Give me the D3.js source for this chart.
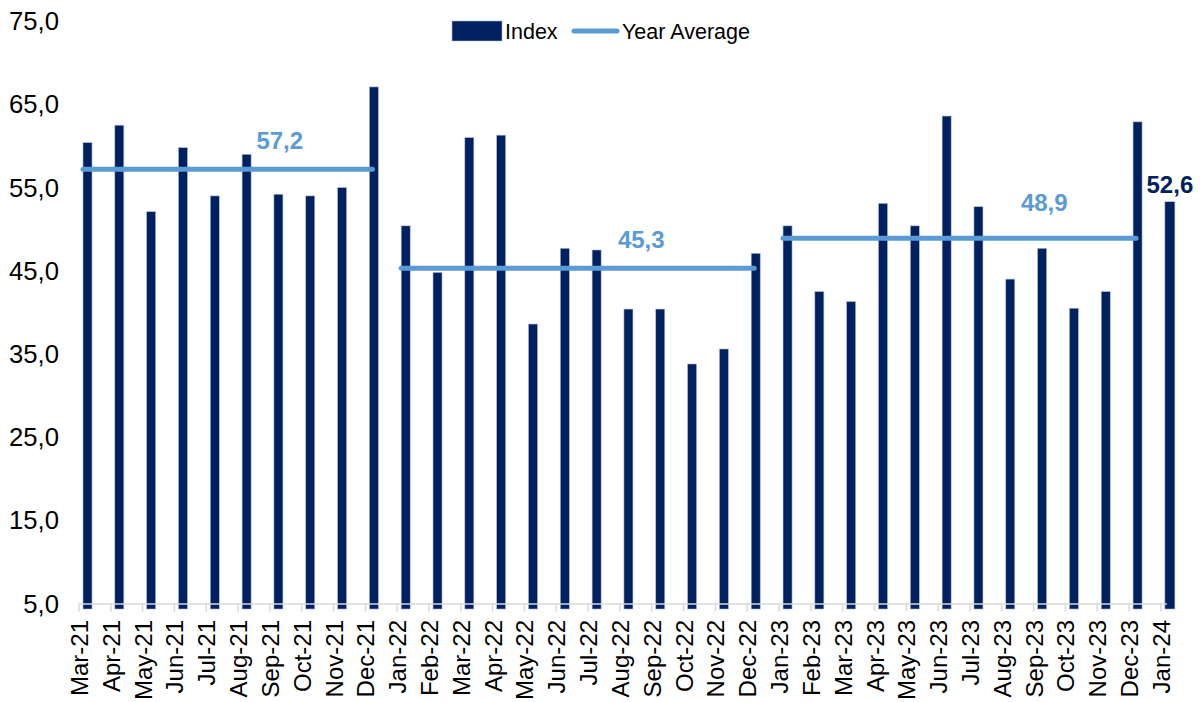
<!DOCTYPE html>
<meta charset="utf-8">
<script src="https://d3js.org/d3.v7.js"></script>
<style>
  body { margin: 0; background: #fff; }
  text { font-family: "Liberation Sans", Arial, sans-serif; }
</style>
<div id="chart"></div>
<script>

// data
var months = ["Mar-21","Apr-21","May-21","Jun-21","Jul-21","Aug-21","Sep-21","Oct-21","Nov-21","Dec-21",
  "Jan-22","Feb-22","Mar-22","Apr-22","May-22","Jun-22","Jul-22","Aug-22","Sep-22","Oct-22","Nov-22","Dec-22",
  "Jan-23","Feb-23","Mar-23","Apr-23","May-23","Jun-23","Jul-23","Aug-23","Sep-23","Oct-23","Nov-23","Dec-23",
  "Jan-24"];
var index = [60.4, 62.5, 52.1, 59.8, 54.0, 59.0, 54.2, 54.0, 55.0, 67.1,
  50.4, 44.8, 61.0, 61.3, 38.6, 47.7, 47.5, 40.4, 40.4, 33.8, 35.6, 47.1,
  50.4, 42.5, 41.3, 53.1, 50.4, 63.6, 52.7, 44.0, 47.7, 40.5, 42.5, 62.9,
  53.3];
var avgValues = [57.2, 45.3, 48.9];
var avgFrom = ["Mar-21", "Jan-22", "Jan-23"];
var avgTo = ["Dec-21", "Dec-22", "Dec-23"];
var lastLabel = "52,6";
var yTicks = [5, 15, 25, 35, 45, 55, 65, 75];

var width = 1200, height = 702;
var navy = "#002060", blue = "#5b9bd5", grid = "#d9d9d9";

var svg = d3.select("#chart").append("svg")
    .attr("width", width)
    .attr("height", height);

var comma = d3.formatLocale({decimal: ",", thousands: ".", grouping: [3], currency: ["", ""]}).format(".1f");

var y = d3.scaleLinear()
  .domain([5, 75])
  .range([603.6, 21.2]);

var step = 31.82;
var x = d3.scaleBand()
  .domain(months)
  .range([79, 79 + step * months.length]);

// y axis labels (no line)
svg.append("g")
  .selectAll("text")
  .data(yTicks)
  .join("text")
    .attr("x", 59)
    .attr("y", d => y(d))
    .attr("dy", "0.35em")
    .attr("text-anchor", "end")
    .style("font-size", "25.7px")
    .style("fill", "#000")
    .text(d => comma(d));

// bars
svg.append("g")
  .selectAll("rect")
  .data(months)
  .join("rect")
    .attr("x", (d) => x(d) + 4)
    .attr("width", (d, i) => i == months.length - 1 ? 10 : 9)
    .attr("y", (d, i) => y(index[i]))
    .attr("height", (d, i) => y(4.35) - y(index[i]))
    .style("fill", navy)
    .style("stroke", "#a9b8d6")
    .style("stroke-width", 0.6);

// x axis line and ticks
var axis = svg.append("g");
axis.append("line")
  .attr("x1", x(months[0]))
  .attr("x2", x(months[months.length - 1]) + 6)
  .attr("y1", y(5) + 0.5)
  .attr("y2", y(5) + 0.5)
  .style("stroke", grid)
  .style("stroke-width", 1.5);
axis.selectAll(".tick")
  .data(months)
  .join("line")
    .attr("class", "tick")
    .attr("x1", d => x(d))
    .attr("x2", d => x(d))
    .attr("y1", y(5))
    .attr("y2", y(5) + 8)
    .style("stroke", grid)
    .style("stroke-width", 1.5);
axis.selectAll(".lab")
  .data(months)
  .join("text")
    .attr("class", "lab")
    .attr("transform", d => "translate(" + (x(d) + 9) + "," + 620 + ") rotate(-90)")
    .attr("text-anchor", "end")
    .style("font-size", "24px")
    .style("fill", "#000")
    .text(d => d);

// year average lines
var frac = [0.68, 0.68, 0.74];
var lift = [20, 20, 27];
var avg = svg.append("g");
avgValues.forEach(function (v, i) {
  var x1 = x(avgFrom[i]) + 4, x2 = x(avgTo[i]) + 7;
  avg.append("line")
    .attr("x1", x1).attr("x2", x2)
    .attr("y1", y(v)).attr("y2", y(v))
    .style("stroke", blue)
    .style("stroke-width", 5)
    .style("stroke-linecap", "round");
  avg.append("text")
    .attr("x", x1 + (x2 - x1) * frac[i])
    .attr("y", y(v) - lift[i])
    .attr("text-anchor", "middle")
    .style("font-size", "24px")
    .style("font-weight", "bold")
    .style("fill", blue)
    .text(comma(v));
});

// label on last bar
var last = months[months.length - 1];
svg.append("text")
  .attr("x", x(last) + 9)
  .attr("y", y(index[index.length - 1]) - 9)
  .attr("text-anchor", "middle")
  .style("font-size", "24px")
  .style("font-weight", "bold")
  .style("fill", navy)
  .text(lastLabel);

// legend
var legend = svg.append("g");
legend.append("rect")
  .attr("x", 452).attr("y", 21)
  .attr("width", 50).attr("height", 20)
  .style("fill", navy)
  .style("stroke", "#a9b8d6")
  .style("stroke-width", 0.6);
legend.append("text")
  .attr("x", 505).attr("y", 39)
  .style("font-size", "21.5px")
  .text("Index");
legend.append("line")
  .attr("x1", 574).attr("x2", 617)
  .attr("y1", 31).attr("y2", 31)
  .style("stroke", blue)
  .style("stroke-width", 5)
  .style("stroke-linecap", "round");
legend.append("text")
  .attr("x", 622).attr("y", 39)
  .style("font-size", "21.5px")
  .text("Year Average");

</script>
